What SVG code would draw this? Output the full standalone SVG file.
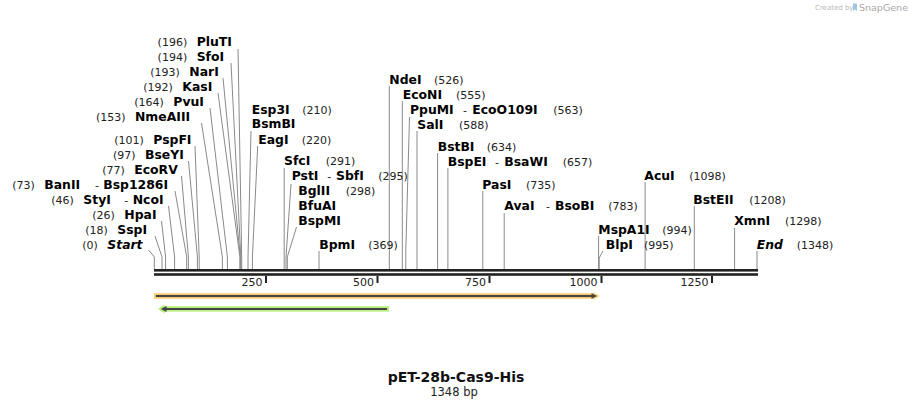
<svg xmlns="http://www.w3.org/2000/svg" width="912" height="408" viewBox="0 0 912 408">
<style>
.n{font-family:"DejaVu Sans",Verdana,sans-serif;font-size:11px;fill:#222}
.b{font-family:"DejaVu Sans",Verdana,sans-serif;font-size:12.4px;font-weight:bold;fill:#000}
.i{font-style:italic}
.e{text-anchor:end}
.ld{stroke:#8a8a8a;stroke-width:1;fill:none}
.tk{fill:#222}
.tl{font-family:"DejaVu Sans",Verdana,sans-serif;font-size:11px;fill:#222;text-anchor:end}
</style>
<rect width="912" height="408" fill="#fff"/>
<g id="watermark">
<text x="815" y="10" style="font-family:'DejaVu Sans',sans-serif;font-size:7px;fill:#b8b8b8">Created by</text>
<path d="M853,3.5 h4 v7.5 l-2,-1.5 l-2,1.5 z" fill="#9cc8e6"/>
<text x="859" y="10.5" style="font-family:'DejaVu Sans',sans-serif;font-size:9.5px;fill:#a8a8a8">SnapGene</text>
</g>
<g id="connectors">
<path class="ld" d="M238,49 L241.7,257 V269"/>
<path class="ld" d="M231,63 L240.8,257 V269"/>
<path class="ld" d="M223,78 L240.3,257 V269"/>
<path class="ld" d="M218,93 L239.9,257 V269"/>
<path class="ld" d="M210,108 L227.4,257 V269"/>
<path class="ld" d="M201.5,123 L222.4,257 V269"/>
<path class="ld" d="M195,146 L199.2,257 V269"/>
<path class="ld" d="M188.5,161 L197.4,257 V269"/>
<path class="ld" d="M181.5,176 L188.4,257 V269"/>
<path class="ld" d="M175,191 L186.7,257 V269"/>
<path class="ld" d="M168.5,206 L174.6,257 V269"/>
<path class="ld" d="M161.5,221 L165.6,257 V269"/>
<path class="ld" d="M155,236 L162,257 V269"/>
<path class="ld" d="M148.5,250 L154.3,257 V269"/>
<path class="ld" d="M251,131 L248,257 V269"/>
<path class="ld" d="M257.7,146 L252.4,257 V269"/>
<path class="ld" d="M284.2,168 V269"/>
<path class="ld" d="M291,184 L286,257 V269"/>
<path class="ld" d="M296.5,227 L287.3,257 V269"/>
<path class="ld" d="M319,251 V269"/>
<path class="ld" d="M389.3,86 V269"/>
<path class="ld" d="M402.3,101 V269"/>
<path class="ld" d="M409.5,117 L405.8,250 V269"/>
<path class="ld" d="M417,131 V269"/>
<path class="ld" d="M437.6,153 V269"/>
<path class="ld" d="M447.9,168 V269"/>
<path class="ld" d="M482.8,191 V269"/>
<path class="ld" d="M504.2,213 V269"/>
<path class="ld" d="M598.6,236 V269"/>
<path class="ld" d="M603,251 L599.2,258 V269"/>
<path class="ld" d="M645.1,182 V269"/>
<path class="ld" d="M694.3,206 V269"/>
<path class="ld" d="M734.6,228 V269"/>
<path class="ld" d="M757,251 V269"/>
</g>
<g id="backbone">
<rect x="154" y="269" width="604" height="2.6" fill="#222"/>
<rect x="154" y="273.2" width="604" height="2.6" fill="#222"/>
<rect class="tk" x="265" y="276" width="2" height="7"/>
<rect class="tk" x="376.5" y="276" width="2" height="7"/>
<rect class="tk" x="488.5" y="276" width="2" height="7"/>
<rect class="tk" x="600.5" y="276" width="2" height="7"/>
<rect class="tk" x="711" y="276" width="2" height="7"/>
<text class="tl" x="262.5" y="286">250</text>
<text class="tl" x="374" y="286">500</text>
<text class="tl" x="486" y="286">750</text>
<text class="tl" x="597.5" y="286">1000</text>
<text class="tl" x="708.5" y="286">1250</text>
</g>
<g id="feature-orange">
<rect x="154" y="293.3" width="440" height="5.4" fill="#f8c86f"/>
<polygon points="593,292.2 599.6,296 593,299.8" fill="#f8c86f"/>
<rect x="156" y="295" width="437" height="2" fill="#444"/>
<polygon points="591.5,293.2 597,296 591.5,298.8" fill="#444"/>
</g>
<g id="feature-green">
<rect x="164" y="306.2" width="225" height="5.4" fill="#b6ef7c"/>
<polygon points="164.5,304.2 158,308.9 164.5,313.6" fill="#b6ef7c"/>
<rect x="165" y="308" width="222" height="2" fill="#444"/>
<polygon points="166.5,306.1 160.8,309 166.5,311.9" fill="#444"/>
</g>
<g id="PluTI"><text class="n e" x="187.2" y="46">(196)</text><text class="b" x="196.7" y="46">PluTI</text></g>
<g id="SfoI"><text class="n e" x="187.2" y="61">(194)</text><text class="b" x="196.7" y="61">SfoI</text></g>
<g id="NarI"><text class="n e" x="179.8" y="76">(193)</text><text class="b" x="189.3" y="76">NarI</text></g>
<g id="KasI"><text class="n e" x="172.8" y="91">(192)</text><text class="b" x="182.3" y="91">KasI</text></g>
<g id="PvuI"><text class="n e" x="163.8" y="106">(164)</text><text class="b" x="173.3" y="106">PvuI</text></g>
<g id="NmeAIII"><text class="n e" x="125.5" y="121">(153)</text><text class="b" x="135" y="121">NmeAIII</text></g>
<g id="PspFI"><text class="n e" x="143.8" y="144">(101)</text><text class="b" x="153.3" y="144">PspFI</text></g>
<g id="BseYI"><text class="n e" x="135.5" y="159">(97)</text><text class="b" x="145" y="159">BseYI</text></g>
<g id="EcoRV"><text class="n e" x="124.8" y="174">(77)</text><text class="b" x="134.3" y="174">EcoRV</text></g>
<g id="BanII"><text class="n e" x="34.8" y="189">(73)</text><text class="b" x="44.3" y="189">BanII</text><text class="n" x="95" y="189">-</text><text class="b" x="103.3" y="189">Bsp1286I</text></g>
<g id="StyI"><text class="n e" x="73.8" y="204">(46)</text><text class="b" x="83.3" y="204">StyI</text><text class="n" x="124.3" y="204">-</text><text class="b" x="132.7" y="204">NcoI</text></g>
<g id="HpaI"><text class="n e" x="114.8" y="219">(26)</text><text class="b" x="124.3" y="219">HpaI</text></g>
<g id="SspI"><text class="n e" x="107.8" y="234">(18)</text><text class="b" x="117.3" y="234">SspI</text></g>
<g id="Start"><text class="n e" x="97.8" y="249">(0)</text><text class="b i" x="107.3" y="249">Start</text></g>
<g id="Esp3I"><text class="b" x="251.7" y="113.5">Esp3I</text><text class="n" x="302.3" y="113.5">(210)</text><text class="b" x="251.7" y="128">BsmBI</text></g>
<g id="EagI"><text class="b" x="258.3" y="143.5">EagI</text><text class="n" x="301.7" y="143.5">(220)</text></g>
<g id="SfcI"><text class="b" x="284" y="165">SfcI</text><text class="n" x="325.7" y="165">(291)</text></g>
<g id="PstI"><text class="b" x="291.7" y="180">PstI</text><text class="n" x="327.3" y="180">-</text><text class="b" x="336" y="180">SbfI</text><text class="n" x="378.3" y="180">(295)</text></g>
<g id="BglII"><text class="b" x="298.3" y="195">BglII</text><text class="n" x="345.7" y="195">(298)</text><text class="b" x="298.3" y="209.5">BfuAI</text><text class="b" x="298.3" y="224.5">BspMI</text></g>
<g id="BpmI"><text class="b" x="319.3" y="248.5">BpmI</text><text class="n" x="368.3" y="248.5">(369)</text></g>
<g id="NdeI"><text class="b" x="389.3" y="83.5">NdeI</text><text class="n" x="434" y="83.5">(526)</text></g>
<g id="EcoNI"><text class="b" x="402.7" y="98.5">EcoNI</text><text class="n" x="456" y="98.5">(555)</text></g>
<g id="PpuMI"><text class="b" x="410" y="113.5">PpuMI</text><text class="n" x="463" y="113.5">-</text><text class="b" x="472.3" y="113.5">EcoO109I</text><text class="n" x="553.3" y="113.5">(563)</text></g>
<g id="SalI"><text class="b" x="417.3" y="128.5">SalI</text><text class="n" x="459" y="128.5">(588)</text></g>
<g id="BstBI"><text class="b" x="437.7" y="150.7">BstBI</text><text class="n" x="486.7" y="150.7">(634)</text></g>
<g id="BspEI"><text class="b" x="447.7" y="165.7">BspEI</text><text class="n" x="495" y="165.7">-</text><text class="b" x="504.3" y="165.7">BsaWI</text><text class="n" x="562.7" y="165.7">(657)</text></g>
<g id="PasI"><text class="b" x="482.3" y="188.5">PasI</text><text class="n" x="526" y="188.5">(735)</text></g>
<g id="AvaI"><text class="b" x="504.3" y="210">AvaI</text><text class="n" x="546" y="210">-</text><text class="b" x="555" y="210">BsoBI</text><text class="n" x="608.3" y="210">(783)</text></g>
<g id="MspA1I"><text class="b" x="598.3" y="233.5">MspA1I</text><text class="n" x="662.3" y="233.5">(994)</text></g>
<g id="BlpI"><text class="b" x="605.7" y="248.5">BlpI</text><text class="n" x="644" y="248.5">(995)</text></g>
<g id="AcuI"><text class="b" x="644.3" y="179.5">AcuI</text><text class="n" x="689.3" y="179.5">(1098)</text></g>
<g id="BstEII"><text class="b" x="693.3" y="203.5">BstEII</text><text class="n" x="749.3" y="203.5">(1208)</text></g>
<g id="XmnI"><text class="b" x="734.3" y="225">XmnI</text><text class="n" x="785" y="225">(1298)</text></g>
<g id="End"><text class="b i" x="756.7" y="248.5">End</text><text class="n" x="796.7" y="248.5">(1348)</text></g>
<g id="title">
<text x="456" y="382" text-anchor="middle" style="font-family:'DejaVu Sans',Verdana,sans-serif;font-size:14px;font-weight:bold;fill:#111">pET-28b-Cas9-His</text>
<text x="454" y="396" text-anchor="middle" style="font-family:'DejaVu Sans',Verdana,sans-serif;font-size:11.5px;fill:#222">1348 bp</text>
</g>
</svg>
